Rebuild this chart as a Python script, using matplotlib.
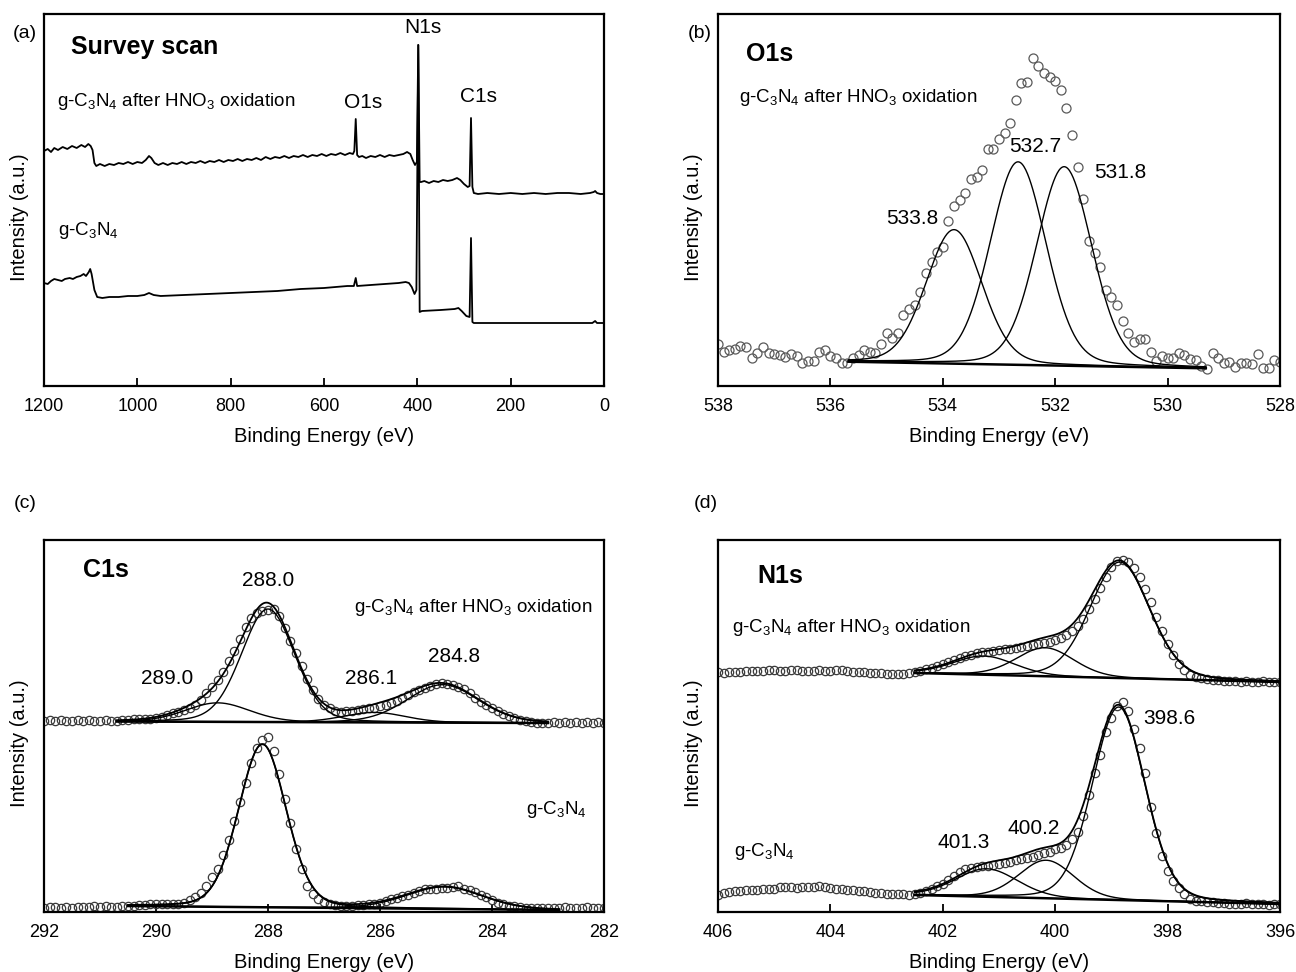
import numpy as np
import matplotlib
matplotlib.use('Agg')
import matplotlib.pyplot as plt

plt.rcParams['font.family'] = ['Liberation Sans', 'DejaVu Sans']
plt.rcParams['mathtext.fontset'] = 'custom'
plt.rcParams['mathtext.rm'] = 'Liberation Sans'
plt.rcParams['mathtext.it'] = 'Liberation Sans:italic'
plt.rcParams['mathtext.bf'] = 'Liberation Sans:bold'

OXI = 'g-C$_3$N$_4$ after HNO$_3$ oxidation'
GCN = 'g-C$_3$N$_4$'

# ---- (a) survey scan (energy eV, intensity a.u.)
survey_top_e = [1200, 1192, 1185, 1178, 1170, 1160, 1150, 1140, 1130, 1120, 1112, 1105, 1100, 1096,
                1092, 1088, 1080, 1070, 1060, 1050, 1040, 1030, 1020, 1010, 1000, 990, 982, 975, 970,
                963, 955, 945, 935, 925, 915, 905, 895, 885, 875, 865, 855, 845, 835, 825, 815, 805,
                795, 785, 775, 765, 755, 745, 735, 725, 715, 705, 695, 685, 675, 665, 655, 645, 635,
                625, 615, 605, 595, 585, 575, 565, 555, 545, 538, 535, 532, 529, 525, 518, 510, 500,
                490, 480, 470, 460, 450, 440, 430, 422, 415, 410, 405, 401, 398, 395, 392, 385, 375,
                365, 355, 345, 335, 325, 315, 308, 300, 292, 288, 285, 282, 279, 270, 250, 225, 200,
                175, 150, 125, 100, 75, 50, 30, 22, 19, 15, 8, 0]
survey_top_i = [231, 233, 230, 234, 232, 235, 233, 236, 234, 237, 235, 238, 236, 232,
                219, 216, 218, 216, 218, 217, 219, 218, 220, 218, 220, 219, 222, 226, 224,
                219, 217, 219, 217, 219, 218, 220, 218, 220, 219, 221, 219, 221, 220, 222, 220, 222,
                221, 223, 221, 223, 222, 224, 222, 225, 223, 225, 224, 226, 224, 226, 225, 227, 225,
                227, 226, 228, 226, 228, 227, 229, 227, 229, 228, 231, 263, 227, 225, 226, 224, 226,
                225, 227, 225, 227, 226, 227, 228, 230, 228, 222, 217, 220, 337, 200, 200, 201, 199,
                201, 200, 202, 201, 202, 204, 202, 198, 195, 196, 264, 195, 189, 188, 189, 188, 189,
                188, 189, 188, 189, 189, 188, 189, 190, 191, 189, 188, 188]

survey_bot_e = [1200, 1192, 1185, 1178, 1170, 1162, 1155, 1145, 1138, 1130, 1122, 1115, 1110, 1104,
                1101, 1098, 1092, 1086, 1075, 1060, 1040, 1020, 1000, 985, 975, 965, 950, 900, 850,
                800, 750, 700, 650, 600, 550, 536, 532, 529, 500, 470, 440, 425, 418, 412, 406, 402,
                398, 395, 390, 350, 320, 312, 305, 295, 288, 285, 282, 279, 100, 25, 19, 15, 0]
survey_bot_i = [99, 98, 101, 103, 102, 101, 103, 104, 103, 105, 106, 108, 106, 110,
                113, 108, 92, 85, 84, 85, 85, 86, 86, 87, 89, 87, 86, 87, 88,
                89, 90, 91, 93, 94, 96, 96, 104, 96, 97, 98, 99, 100, 99, 95, 88, 92,
                337, 70, 71, 72, 73, 74, 71, 66, 65, 144, 60, 59, 59, 59, 61, 59, 59]

# ---- (b) O1s, 0.1 eV steps from 538.0 to 528.0
o1s_e = np.round(np.arange(538.0, 527.95, -0.1), 1)
o1s_i = [41, 33, 35, 36, 39, 38, 27, 32, 38, 32,
         31, 30, 28, 31, 29, 22, 24, 24, 33, 35,
         29, 27, 22, 22, 27, 30, 35, 33, 32, 41,
         52, 47, 52, 70, 76, 80, 93, 112, 123, 133,
         138, 164, 179, 185, 192, 206, 208, 215, 236, 236,
         246, 252, 262, 285, 302, 303, 327, 319, 312, 308,
         304, 295, 277, 250, 218, 186, 144, 132, 118, 95,
         88, 80, 64, 52, 43, 46, 46, 33, 24, 29,
         27, 27, 32, 30, 26, 25, 19, 16, 32, 27,
         22, 23, 18, 22, 22, 21, 31, 17, 17, 25,
         23]
o1s_centers = [533.8, 532.66, 531.84]
o1s_heights = [134, 203, 199]
o1s_fwhm = [1.17, 1.17, 1.16]
o1s_base = [(535.68, 23.3), (529.32, 16.7)]

# ---- (c) C1s, 0.1 eV steps from 292.0 to 282.0
c1s_e = np.round(np.arange(292.0, 281.95, -0.1), 1)
c1s_top_i = [191, 192, 191, 192, 191, 191, 192, 191, 192, 191, 191, 192, 191, 191,
             192, 192, 193, 193, 193, 193, 194,
             195, 197, 199, 200, 202, 204, 207, 212, 219, 225,
             232, 240, 251, 261, 273, 285, 294, 299, 301, 302,
             303, 296, 284, 271, 259, 246, 233, 222, 213, 207,
             204, 201, 200, 201, 201, 202, 203, 204, 204, 206,
             207, 209, 211, 214, 217, 220, 222, 224, 226, 228,
             229, 228, 227, 225, 223, 219, 214, 210, 207, 204,
             201, 198, 196, 194, 192, 191, 190, 189, 189, 189,
             190, 189, 190, 189, 190, 189, 190, 189, 190, 189]
c1s_bot_i = [4, 5, 5, 4, 5, 4, 5, 5, 5, 6, 5,
             6, 5, 5, 6, 6, 6, 7, 7, 8, 8,
             8, 8, 8, 8, 9, 12, 15, 19, 26, 35,
             43, 57, 72, 91, 110, 129, 149, 164, 172, 175,
             161, 138, 113, 89, 63, 43, 26, 18, 13, 10,
             8, 7, 6, 6, 6, 7, 7, 8, 8, 9,
             11, 13, 14, 16, 17, 19, 21, 23, 23, 23,
             24, 24, 25, 26, 23, 22, 20, 17, 15, 12,
             9, 8, 6, 6, 5, 4, 4, 4, 4, 4,
             4, 4, 5, 4, 4, 4, 5, 4, 4, 4]
c1s_top_centers = [288.9, 288.0, 286.1, 284.88]
c1s_top_heights = [19, 113, 10, 38]
c1s_top_fwhm = [1.35, 1.12, 1.3, 1.5]
c1s_top_base = [(290.7, 190.5), (283.0, 189.0)]
c1s_bot_centers = [288.1, 284.85]
c1s_bot_heights = [163, 22]
c1s_bot_fwhm = [1.0, 1.6]
c1s_bot_base = [(290.5, 6.0), (282.8, 2.0)]

# ---- (d) N1s, 0.1 eV steps from 406.0 to 396.0
n1s_e = np.round(np.arange(406.0, 395.95, -0.1), 1)
n1s_top_i = [240, 239, 240, 240, 240, 241, 241, 241, 241, 242, 242,
             241, 241, 242, 242, 241, 241, 241, 242, 241, 241,
             242, 242, 241, 240, 240, 240, 239, 239, 239, 238,
             238, 238, 238, 239, 240, 241, 243, 244, 246, 248,
             250, 252, 254, 256, 257, 259, 260, 260, 261, 262,
             263, 263, 264, 265, 266, 267, 268, 269, 270, 272,
             274, 277, 281, 286, 293, 303, 313, 324, 335, 345,
             351, 352, 350, 344, 335, 323, 310, 295, 281, 268,
             257, 248, 242, 237, 235, 234, 233, 232, 232, 231,
             231, 231, 230, 231, 230, 230, 231, 230, 230, 230]
n1s_bot_i = [17, 19, 20, 21, 21, 22, 22, 22, 23, 23, 23,
             25, 25, 25, 24, 25, 25, 25, 26, 25, 24,
             23, 23, 22, 22, 21, 21, 20, 19, 19, 18,
             18, 18, 18, 17, 18, 19, 21, 23, 26, 28,
             32, 36, 40, 43, 44, 45, 46, 46, 47, 48,
             49, 50, 52, 53, 54, 55, 57, 59, 60, 63,
             64, 67, 73, 80, 96, 117, 139, 157, 180, 194,
             206, 210, 201, 183, 164, 139, 105, 79, 56, 41,
             31, 24, 18, 13, 11, 11, 10, 10, 9, 9,
             8, 8, 8, 9, 8, 8, 8, 7, 8, 8]
n1s_top_centers = [401.27, 400.18, 398.85]
n1s_top_heights = [18.7, 28.5, 116]
n1s_top_fwhm = [1.3, 1.2, 1.25]
n1s_top_base = [(402.5, 239.0), (396.0, 230.0)]
n1s_bot_centers = [401.22, 400.16, 398.87]
n1s_bot_heights = [28, 38, 193]
n1s_bot_fwhm = [1.3, 1.15, 1.1]
n1s_bot_base = [(402.5, 17.0), (396.0, 8.0)]


def pv(x, c, h, w, eta=0.15):
    # pseudo-Voigt peak used for the fitted components
    g = np.exp(-4 * np.log(2) * ((x - c) / w) ** 2)
    l = 1 / (1 + 4 * ((x - c) / w) ** 2)
    return h * ((1 - eta) * g + eta * l)


def draw_fit(ax, base, centers, heights, fwhm, envelope=True):
    (e0, i0), (e1, i1) = base
    x = np.linspace(e0, e1, 400)
    bl = i0 + (x - e0) * (i1 - i0) / (e1 - e0)
    total = bl.copy()
    for c, h, w in zip(centers, heights, fwhm):
        comp = pv(x, c, h, w)
        total += comp
        ax.plot(x, bl + comp, color='black', lw=1.0, zorder=3)
    ax.plot(x, bl, color='black', lw=1.8, zorder=3)
    if envelope:
        ax.plot(x, total, color='black', lw=1.3, zorder=3)


def style(ax, xlim, ylim, ticks):
    ax.set_xlim(*xlim)
    ax.set_ylim(*ylim)
    ax.set_xticks(ticks)
    ax.set_yticks([])
    for s in ax.spines.values():
        s.set_linewidth(1.6)
    ax.tick_params(axis='x', direction='in', length=6, width=1.3, labelsize=13, pad=8.5)
    ax.set_xlabel('Binding Energy (eV)', fontsize=14.5, labelpad=9)
    ax.set_ylabel('Intensity (a.u.)', fontsize=14.5)
    ax.yaxis.set_label_coords(-0.026, 0.455)


W, H = 1296, 972
fig = plt.figure(figsize=(W / 100, H / 100), dpi=100)


def add_ax(left, top, right, bottom):
    return fig.add_axes([left / W, 1 - bottom / H, (right - left) / W, (bottom - top) / H])


mk = dict(marker='o', ls='none', mfc='none', zorder=2)

# (a)
ax = add_ax(44, 14, 604, 386)
ax.plot(survey_top_e, survey_top_i, color='black', lw=1.3)
ax.plot(survey_bot_e, survey_bot_i, color='black', lw=1.3)
style(ax, (1200, 0), (-4, 368), range(0, 1201, 200))
ax.text(1143, 335, 'Survey scan', fontsize=18, fontweight='bold', va='center')
ax.text(1172, 281, OXI, fontsize=13.5, va='center')
ax.text(1170, 152, GCN, fontsize=13.5, va='center')
ax.text(516, 279, 'O1s', fontsize=15, ha='center', va='center')
ax.text(388, 354, 'N1s', fontsize=15, ha='center', va='center')
ax.text(268, 285, 'C1s', fontsize=15, ha='center', va='center')
fig.text(25 / W, 1 - 33 / H, '(a)', fontsize=14, ha='center', va='center')

# (b)
ax = add_ax(718, 14, 1280, 386)
ax.plot(o1s_e, o1s_i, ms=6.5, mew=0.9, mec='#5a5a5a', **mk)
draw_fit(ax, o1s_base, o1s_centers, o1s_heights, o1s_fwhm, envelope=False)
style(ax, (538, 528), (-1, 371), range(528, 539, 2))
ax.text(537.5, 331, 'O1s', fontsize=18, fontweight='bold', va='center')
ax.text(537.63, 288, OXI, fontsize=13.5, va='center')
ax.text(534.54, 167, '533.8', fontsize=15, ha='center', va='center')
ax.text(532.36, 238, '532.7', fontsize=15, ha='center', va='center')
ax.text(530.84, 212, '531.8', fontsize=15, ha='center', va='center')
fig.text(700 / W, 1 - 33 / H, '(b)', fontsize=14, ha='center', va='center')

# (c)
ax = add_ax(44, 540, 604, 912)
ax.plot(c1s_e, c1s_top_i, ms=6, mew=0.9, mec='#3a3a3a', **mk)
ax.plot(c1s_e, c1s_bot_i, ms=6, mew=0.9, mec='#3a3a3a', **mk)
draw_fit(ax, c1s_top_base, c1s_top_centers, c1s_top_heights, c1s_top_fwhm)
draw_fit(ax, c1s_bot_base, c1s_bot_centers, c1s_bot_heights, c1s_bot_fwhm)
style(ax, (292, 282), (0, 372), range(282, 293, 2))
ax.text(291.3, 342, 'C1s', fontsize=18, fontweight='bold', va='center')
ax.text(288.0, 331, '288.0', fontsize=15, ha='center', va='center')
ax.text(282.2, 304, OXI, fontsize=13.5, ha='right', va='center')
ax.text(289.8, 234, '289.0', fontsize=15, ha='center', va='center')
ax.text(286.16, 233, '286.1', fontsize=15, ha='center', va='center')
ax.text(284.68, 256, '284.8', fontsize=15, ha='center', va='center')
ax.text(282.3, 103, GCN, fontsize=13.5, ha='right', va='center')
fig.text(25 / W, 1 - 503 / H, '(c)', fontsize=14, ha='center', va='center')

# (d)
ax = add_ax(718, 540, 1280, 912)
ax.plot(n1s_e, n1s_top_i, ms=6, mew=0.9, mec='#3a3a3a', **mk)
ax.plot(n1s_e, n1s_bot_i, ms=6, mew=0.9, mec='#3a3a3a', **mk)
draw_fit(ax, n1s_top_base, n1s_top_centers, n1s_top_heights, n1s_top_fwhm)
draw_fit(ax, n1s_bot_base, n1s_bot_centers, n1s_bot_heights, n1s_bot_fwhm)
style(ax, (406, 396), (0, 372), range(396, 407, 2))
ax.text(405.3, 336, 'N1s', fontsize=18, fontweight='bold', va='center')
ax.text(405.75, 284, OXI, fontsize=13.5, va='center')
ax.text(401.62, 69, '401.3', fontsize=15, ha='center', va='center')
ax.text(400.38, 84, '400.2', fontsize=15, ha='center', va='center')
ax.text(397.97, 193, '398.6', fontsize=15, ha='center', va='center')
ax.text(405.72, 61, GCN, fontsize=13.5, va='center')
fig.text(706 / W, 1 - 503 / H, '(d)', fontsize=14, ha='center', va='center')

fig.savefig('out.png', dpi=100)
